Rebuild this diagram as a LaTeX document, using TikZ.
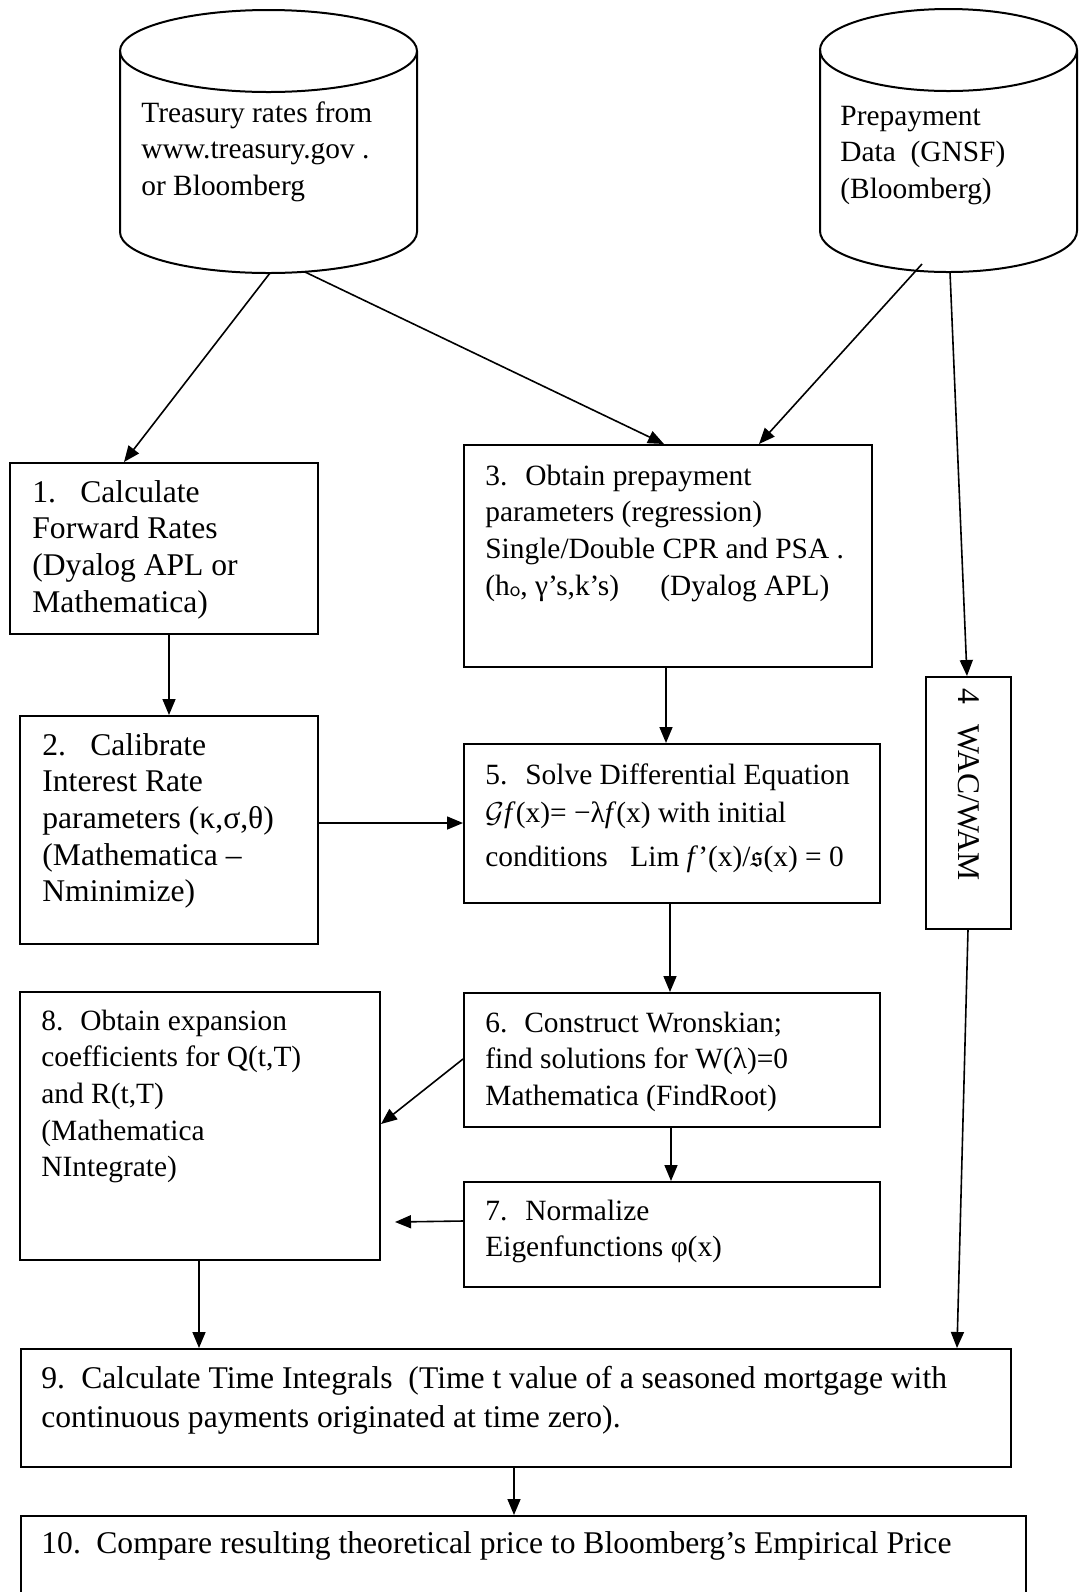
\documentclass[tikz,border=0pt]{standalone}
\usepackage{amssymb}
\usepackage{fontspec}
\setmainfont{Liberation Serif}
\usetikzlibrary{arrows.meta,calc,fit}
\tikzset{
  box/.style={draw, line width=1pt, inner sep=0pt, rectangle},
  cyl/.style={draw, line width=1pt},
  arr/.style={-{Triangle[length=8pt,width=6.5pt]}, line width=0.8pt},
  txt/.style={anchor=base west, inner sep=0pt},
  big/.style={font=\fontsize{15.8pt}{18.35pt}\selectfont},
}
\newcommand\btext[1]{\parbox[t]{480pt}{\raggedright #1}}
\newcommand\itm[2]{\makebox[#1][l]{#2}}
\begin{document}
\begin{tikzpicture}[x=0.5pt,y=-0.5pt,font=\fontsize{14.7pt}{18.35pt}\selectfont]
\useasboundingbox (0,0) rectangle (1079,1592);
\clip (0,0) rectangle (1079,1592);

% cylinder 1
\draw[cyl] (268.5,51) ellipse [x radius=148.5, y radius=41];
\draw[cyl] (120,51) -- (120,232) arc[start angle=180, end angle=0, x radius=148.5, y radius=41] -- (417,51);
\coordinate (c1a) at (270,273);
\coordinate (c1b) at (305,272);
\node[txt] (c1t) at (141,122) {\btext{Treasury rates from\\www.treasury.gov .\\or Bloomberg}};

% cylinder 2
\draw[cyl] (948.5,50) ellipse [x radius=128.5, y radius=41];
\draw[cyl] (820,50) -- (820,231) arc[start angle=180, end angle=0, x radius=128.5, y radius=41] -- (1077,50);
\coordinate (c2a) at (922,264);
\coordinate (c2b) at (950,272);
\node[txt] (c2t) at (840,125) {\btext{Prepayment\\Data\ \ (GNSF)\\(Bloomberg)}};

% boxes
\node[box, fit={(10,463) (318,634)}] (b1) {};
\node[box, fit={(20,716) (318,944)}] (b2) {};
\node[box, fit={(464,445) (872,667)}] (b3) {};
\node[box, fit={(926,677) (1011,929)}] (b4) {};
\node[box, fit={(464,744) (880,903)}] (b5) {};
\node[box, fit={(464,993) (880,1127)}] (b6) {};
\node[box, fit={(464,1182) (880,1287)}] (b7) {};
\node[box, fit={(20,992) (380,1260)}] (b8) {};
\node[box, fit={(21,1349) (1011,1467)}] (b9) {};
\node[box, fit={(21,1516) (1026,1640)}] (b10) {};

% texts
\node[txt, big] (t1) at (32,502) {\btext{\itm{24pt}{1.}Calculate\\Forward Rates\\(Dyalog APL or\\Mathematica)}};
\node[txt, big] (t2) at (42,755) {\btext{\itm{24pt}{2.}Calibrate\\Interest Rate\\parameters (κ,σ,θ)\\(Mathematica –\\Nminimize)}};
\node[txt] (t3) at (485,485) {\btext{\itm{20pt}{3.}Obtain prepayment\\parameters (regression)\\Single/Double CPR and PSA .\\\itm{87.5pt}{(h\raisebox{-0.5pt}{\fontsize{10.5pt}{10.5pt}\selectfont\sffamily o}, γ’s,k’s)}(Dyalog APL)}};
\node[txt, big, rotate=-90] (t4) at (958,688) {4\hspace{10pt}WAC/WAM};
\node[txt] (t5) at (485,784) {\btext{\itm{20pt}{5.}Solve Differential Equation\\[0.7pt]$\mathcal{G}$\textit{f}(x)= −λ\textit{f}(x) with initial\\[4pt]\itm{72.5pt}{conditions}Lim \textit{f}’(x)/$\mathfrak{s}$(x) = 0}};
\node[txt] (t6) at (485,1032) {\btext{\itm{19.5pt}{6.}Construct Wronskian;\\find solutions for W(λ)=0\\Mathematica (FindRoot)}};
\node[txt] (t7) at (485,1220) {\btext{\itm{20pt}{7.}Normalize\\Eigenfunctions φ(x)}};
\node[txt] (t8) at (41,1030) {\btext{\itm{19.5pt}{8.}Obtain expansion\\coefficients for Q(t,T)\\and R(t,T)\\(Mathematica\\NIntegrate)}};
\node[txt, big] (t9) at (41,1388) {\btext{\itm{20pt}{9.}Calculate Time Integrals\ \ (Time t value of a seasoned mortgage with\\[1.2pt]continuous payments originated at time zero).}};
\node[txt, big] (t10) at (41,1553) {\itm{27.5pt}{10.}Compare resulting theoretical price to Bloomberg’s Empirical Price};

% connectors
\draw[arr] (c1a) -- ($(b1.north west)+(115,0)$);
\draw[arr] (c1b) -- ($(b3.north west)+(201,0)$);
\draw[arr] (c2a) -- ($(b3.north west)+(296,0)$);
\draw[arr] (c2b) -- ($(b4.north west)+(42,0)$);
\draw[arr] ($(b1.south west)+(160,0)$) -- ($(b2.north west)+(150,0)$);
\draw[arr] ($(b3.south west)+(203,0)$) -- ($(b5.north west)+(203,0)$);
\draw[arr] ($(b2.north east)+(0,108)$) -- ($(b5.north west)+(0,80)$);
\draw[arr] ($(b5.south west)+(207,0)$) -- ($(b6.north west)+(207,0)$);
\draw[arr] ($(b6.north west)+(0,67)$) -- ($(b8.north east)+(0,133)$);
\draw[arr] ($(b6.south west)+(208,0)$) -- ($(b7.north west)+(208,0)$);
\coordinate (e7) at (395,1222);
\draw[arr] ($(b7.north west)+(0,40)$) -- (e7);
\draw[arr] ($(b8.south west)+(180,0)$) -- ($(b9.north west)+(179,0)$);
\draw[arr] ($(b4.south west)+(43,0)$) -- ($(b9.north west)+(937,0)$);
\draw[arr] ($(b9.south west)+(494,0)$) -- ($(b10.north west)+(494,0)$);
\end{tikzpicture}
\end{document}
